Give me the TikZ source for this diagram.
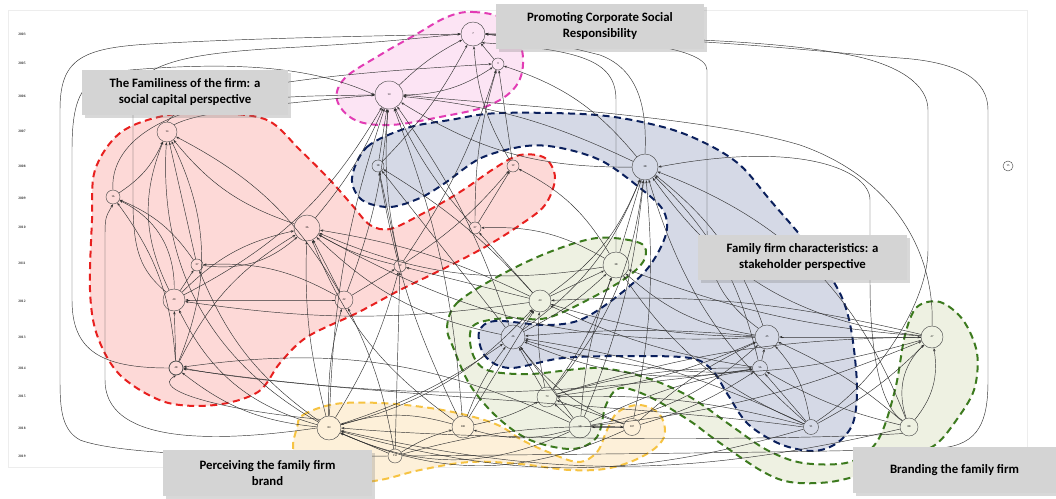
\documentclass[tikz,border=0pt]{standalone}
\usepackage{fontspec}
\setmainfont{Carlito}
\newfontfamily\yrfont{Liberation Serif}
\usetikzlibrary{arrows.meta,shadows}
\definecolor{pinkfill}{HTML}{FCE4F4}
\definecolor{pinkline}{HTML}{E23CB4}
\definecolor{redfill}{HTML}{FDD9D7}
\definecolor{redline}{HTML}{E8201F}
\definecolor{bluefill}{HTML}{D5D9E6}
\definecolor{blueline}{HTML}{0A1F5C}
\definecolor{greenfill}{HTML}{EEF1E2}
\definecolor{greenline}{HTML}{3C7A1E}
\definecolor{yelfill}{HTML}{FDF0D9}
\definecolor{yelline}{HTML}{F6C342}
\definecolor{boxgray}{HTML}{D4D4D4}
\definecolor{edgecol}{HTML}{333333}
\begin{document}
\begin{tikzpicture}[x=1pt,y=-1pt,
  edg/.style={draw=edgecol, line width=0.45pt, -{Stealth[length=3.2pt,width=2.4pt]}},
  nd/.style={circle, draw=black!70, line width=0.45pt, inner sep=0pt, minimum size=#1, font=\fontsize{2.8}{3}\selectfont},
  blob/.style={dash pattern=on 7pt off 4.5pt, line width=2pt},
  yr/.style={font=\yrfont\bfseries\fontsize{3.6}{4}\selectfont, text=black!80},
  lbl/.style={fill=boxgray, draw=none, align=center, inner sep=0pt,
    font=\bfseries\fontsize{12.8}{16}\selectfont, text=black,
    drop shadow={shadow xshift=2.5pt, shadow yshift=-2.5pt, opacity=0.3}}]
\useasboundingbox (0,0) rectangle (1056,498);
\fill[white] (0,0) rectangle (1056,498);
\draw[black!7, line width=0.6pt] (8,10) rectangle (1027,467);

% ---- year labels
\foreach \yy/\py in {2003/34, 2005/63, 2006/96, 2007/131, 2008/166, 2009/198, 2010/227, 2011/263, 2012/301, 2013/337, 2014/368, 2015/396, 2018/428, 2019/456}
  \node[yr] (y\yy) at (22,\py) {\yy};

% ---- regions
\draw[blob, draw=yelline, fill=yelfill] plot[smooth cycle, tension=0.6] coordinates {
 (297,428) (303,415) (335,404) (380,403) (430,408) (470,416) (500,426) (522,440) (548,452)
 (578,462) (597,452) (607,430) (618,412) (640,405) (660,415) (664,437) (645,455) (610,468)
 (570,470) (520,464) (470,462) (420,470) (380,480) (340,483) (300,470) (293,448)};
\draw[blob, draw=greenline, fill=greenfill] plot[smooth cycle, tension=0.55] coordinates {
 (447,327) (457,303) (497,277) (547,253) (597,238) (640,243) (645,258) (630,275) (597,295)
 (547,318) (505,318) (473,326) (472,352) (487,370) (530,374) (597,368) (647,378) (690,397)
 (733,427) (767,450) (803,463) (850,462) (878,440) (895,390) (905,335) (917,307) (940,302)
 (963,320) (977,353) (974,390) (955,422) (935,445) (905,458) (870,472) (830,482) (790,482)
 (760,470) (713,438) (690,421) (650,397) (620,388) (606,405) (597,437) (572,449) (530,440)
 (497,417) (470,385) (453,347)};
\draw[blob, draw=blueline, fill=bluefill] plot[smooth cycle, tension=0.55] coordinates {
 (352,178) (367,147) (407,128) (450,120) (500,113) (597,115) (663,127) (705,143) (740,165)
 (770,200) (800,235) (825,268) (843,300) (852,335) (857,387) (853,423) (837,443) (813,451)
 (780,444) (748,424) (728,395) (712,370) (690,358) (630,356) (563,358) (510,368) (485,356)
 (479,332) (495,321) (545,325) (580,320) (615,298) (648,268) (666,234) (663,210) (640,188)
 (602,161) (561,148) (526,146) (481,158) (445,183) (420,198) (390,207) (362,200)};
\draw[blob, draw=redline, fill=redfill] plot[smooth cycle, tension=0.55] coordinates {
 (163,116) (215,113) (267,120) (300,150) (330,180) (352,205) (370,225) (390,229) (420,215)
 (460,192) (495,168) (520,155) (545,158) (555,178) (545,205) (520,225) (485,247) (445,268)
 (400,290) (357,313) (307,337) (280,363) (258,392) (215,405) (165,402) (120,375) (97,335)
 (90,290) (92,220) (95,170) (120,133)};
\draw[blob, draw=pinkline, fill=pinkfill] plot[smooth cycle, tension=0.6] coordinates {
 (447,17) (473,12) (505,20) (522,50) (518,83) (490,105) (440,117) (390,125) (355,120)
 (337,100) (345,78) (380,55) (415,35)};

% ---- nodes
\node[nd=24pt] (a7) at (473,34) {7};
\node[nd=12pt] (a9) at (498,64) {9};
\node[nd=28pt] (a13) at (389,95) {13};
\node[nd=20pt] (a14) at (167,132) {14};
\node[nd=14pt] (a16) at (113,197) {16};
\node[nd=12pt] (a18) at (378,166) {18};
\node[nd=12pt] (a19) at (513,166) {19};
\node[nd=26pt] (a28) at (645,167) {28};
\node[nd=10pt] (a15) at (1008,166) {15};
\node[nd=26pt] (a26) at (307,228) {26};
\node[nd=12pt] (a27) at (475,228) {27};
\node[nd=12pt] (a27b) at (197,265) {27};
\node[nd=12pt] (a29) at (400,266) {29};
\node[nd=26pt] (a38) at (616,265) {38};
\node[nd=22pt] (a40) at (174,300) {40};
\node[nd=18pt] (a42) at (344,300) {42};
\node[nd=22pt] (a43) at (540,301) {43};
\node[nd=24pt] (a46) at (513,337) {46};
\node[nd=24pt] (a45) at (767,337) {45};
\node[nd=22pt] (a47) at (932,337) {47};
\node[nd=14pt, line width=0.8pt] (a48) at (176,368) {48};
\node[nd=15pt] (a56) at (760,368) {56};
\node[nd=20pt] (a73) at (547,397) {73};
\node[nd=24pt] (a83) at (329,428) {83};
\node[nd=22pt] (a100) at (463,427) {100};
\node[nd=22pt] (a58) at (580,427) {58};
\node[nd=17pt] (a107) at (632,427) {107};
\node[nd=15pt] (a91) at (811,427) {91};
\node[nd=18pt] (a88) at (909,427) {88};
\node[nd=14pt] (a114) at (395,456) {114};

% ---- edges (newer -> older)
\foreach \s/\t/\b in {
 a13/a7/5, a18/a7/-5, a19/a7/8, a9/a7/0, a13/a9/-10, a29/a9/-5, a27/a9/5, a28/a9/-10, a19/a9/0,
 a16/a14/-10, a18/a13/0, a28/a13/10, a28/a13/-6,
 a26/a14/10, a26/a13/-5, a27/a13/5, a27/a19/0,
 a27b/a14/0, a27b/a16/-10, a27b/a26/-15,
 a29/a26/5, a29/a13/5, a29/a19/-5, a29/a18/0,
 a38/a28/0, a38/a27/-10, a38/a26/10, a38/a19/-10,
 a40/a14/15, a40/a16/-20, a40/a26/10, a40/a27b/0, a40/a13/-10,
 a42/a40/0, a42/a26/0, a42/a27b/-10, a42/a14/-10, a42/a13/-5, a42/a29/0,
 a43/a26/-5, a43/a27/0, a43/a29/0, a43/a38/0, a43/a28/-10, a43/a40/5, a43/a18/-5,
 a46/a43/0, a46/a38/-5, a46/a28/-10, a46/a26/10, a46/a18/0, a46/a13/-5,
 a45/a28/-10, a45/a38/10, a45/a46/-3, a45/a43/5, a45/a26/10,
 a47/a28/15, a47/a45/0, a47/a43/-5, a47/a46/10, a47/a38/5,
 a48/a40/0, a48/a16/-10, a48/a14/-15, a48/a26/10,
 a56/a45/0, a56/a46/10, a56/a28/-10, a56/a43/5, a56/a48/5,
 a73/a46/0, a73/a43/5, a73/a38/-5, a73/a28/-10, a73/a45/-5, a73/a56/5, a73/a47/5,
 a83/a48/10, a83/a40/15, a83/a42/5, a83/a26/5, a83/a29/-5, a83/a27b/10, a83/a14/20,
 a83/a46/-5, a83/a43/-10, a83/a13/5,
 a100/a83/-10, a100/a46/5, a100/a43/0, a100/a18/5, a100/a73/-5, a100/a26/10, a100/a13/-5,
 a58/a46/0, a58/a73/0, a58/a38/5, a58/a28/-5, a58/a45/-10, a58/a83/15, a58/a100/10,
 a58/a56/5, a58/a47/-5, a58/a48/-10,
 a107/a73/0, a107/a58/0, a107/a28/-5, a107/a45/5, a107/a46/10, a107/a56/-5, a107/a83/15,
 a91/a56/0, a91/a45/-10, a91/a28/10, a91/a46/-5, a91/a47/-5, a91/a38/10, a91/a83/10, a91/a73/-5,
 a88/a47/-15, a88/a47/20, a88/a45/-5, a88/a56/5, a88/a28/-15, a88/a83/8,
 a114/a83/0, a114/a100/5, a114/a29/0, a114/a42/-5, a114/a107/5}
 {\pgfmathsetmacro\bb{1.6*\b}
  \draw[edg] (\s) to[bend left=\bb] (\t);}

% long routed connectors
\draw[edg] (a114.west) .. controls (250,458) and (120,455) .. (80,440) .. controls (62,430) and (60,410) .. (60,380) -- (60,110) .. controls (60,60) and (80,48) .. (150,44) .. controls (250,38) and (380,36) .. (a7.west);
\draw[edg] (a83.west) .. controls (200,445) and (105,440) .. (105,380) -- (105,240) .. controls (105,218) .. (a16.south);
\draw[edg] (a40.north west) .. controls (140,270) and (133,250) .. (133,200) -- (133,100) .. controls (133,60) and (200,52) .. (300,47) .. controls (380,42) .. (a7.west);
\draw[edg] (a48.west) .. controls (100,368) and (72,350) .. (72,300) -- (72,150) .. controls (72,90) and (85,75) .. (130,70) .. controls (250,60) and (320,70) .. (a13.west);
\draw[edg] (a114.east) .. controls (600,454) and (850,452) .. (940,448) .. controls (980,445) and (988,420) .. (988,380) -- (988,110) .. controls (988,80) and (960,62) .. (900,58) .. controls (800,50) and (700,37) .. (a7.east);
\draw[edg] (a91.north east) .. controls (880,380) and (928,300) .. (928,250) -- (928,110) .. controls (928,85) and (900,65) .. (850,55) .. controls (780,42) and (700,38) .. (a7.east);
\draw[edg] (a45.north west) .. controls (720,300) and (707,270) .. (707,230) -- (707,70) .. controls (707,45) and (600,36) .. (a7.east);
\draw[edg] (a38.north) -- (616,100) .. controls (616,60) and (580,50) .. (a7.south east);
\draw[edg] (a28.north) .. controls (647,110) and (640,70) .. (600,55) .. controls (560,45) .. (a7.east);
\draw[edg] (a47.north) .. controls (935,260) and (900,180) .. (800,145) .. controls (700,115) and (500,105) .. (a13.east);
\draw[edg] (a16.north) .. controls (110,150) and (150,110) .. (250,100) .. controls (300,96) .. (a13.west);
\draw[edg] (a14.north east) .. controls (200,110) and (300,102) .. (a13.west);
\draw[edg] (a14.north) .. controls (200,80) and (400,70) .. (a9.west);
\draw[edg] (a91.west) .. controls (650,405) and (300,392) .. (a48.east);
\draw[edg] (a88.south west) .. controls (800,440) and (500,442) .. (a83.east);
\draw[edg] (a88.north west) .. controls (870,400) and (870,300) .. (870,280) -- (870,200) .. controls (870,170) and (800,140) .. (a28.east);
\draw[edg] (a83.north west) .. controls (220,410) and (150,390) .. (a48.south);

% ---- label boxes
\node[lbl, minimum width=206pt, minimum height=45pt] (bFam) at (185,92.5) {The Familiness of the firm: a\\social capital perspective};
\node[lbl, minimum width=208pt, minimum height=45pt] (bCSR) at (600,26.5) {Promoting Corporate Social\\Responsibility};
\node[lbl, minimum width=209pt, minimum height=45pt] (bFFC) at (802.5,257.5) {Family firm characteristics: a\\stakeholder perspective};
\node[lbl, minimum width=209pt, minimum height=46pt] (bPer) at (267.5,473) {Perceiving the family firm\\brand};
\node[lbl, minimum width=203pt, minimum height=46pt] (bBr) at (954.5,470) {Branding the family firm};
\end{tikzpicture}
\end{document}
